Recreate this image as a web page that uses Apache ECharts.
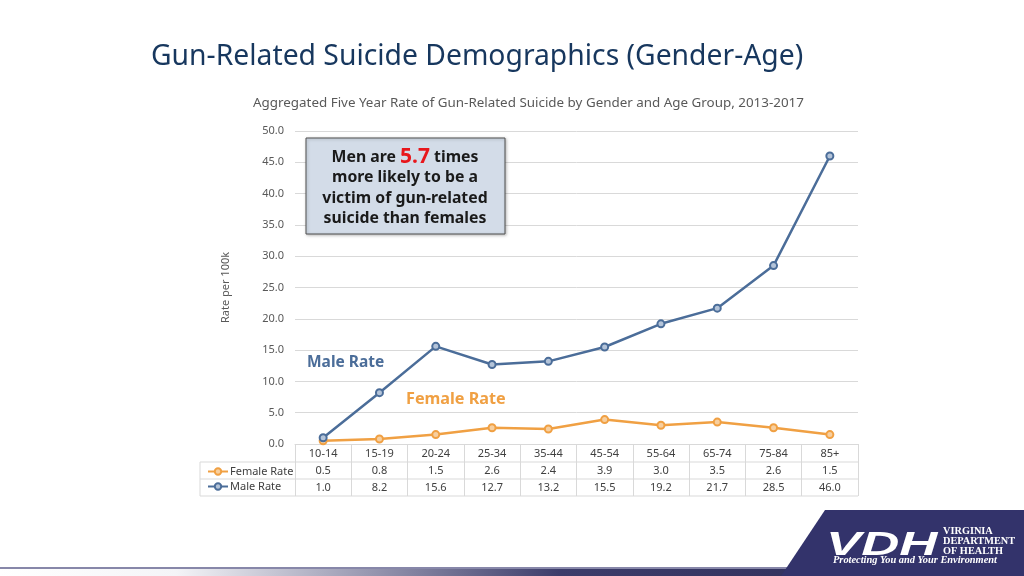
<!DOCTYPE html>
<html>
<head>
<meta charset="utf-8">
<script src="https://cdn.jsdelivr.net/npm/echarts@6/dist/echarts.min.js"></script>
<style>
  html, body { margin: 0; padding: 0; background: #fff; }
  #main { width: 1024px; height: 576px; }
</style>
</head>
<body>
<div id="main"></div>
<script>
// age groups and rates per 100k (2013-2017)
var ageGroups = ['10-14', '15-19', '20-24', '25-34', '35-44', '45-54', '55-64', '65-74', '75-84', '85+'];
var femaleRate = [0.5, 0.8, 1.5, 2.6, 2.4, 3.9, 3.0, 3.5, 2.6, 1.5];
var maleRate = [1.0, 8.2, 15.6, 12.7, 13.2, 15.5, 19.2, 21.7, 28.5, 46.0];

var blue = '#4b6d99';
var orange = '#f0a043';
var gridLine = '#d9d9d9';
var font = 'Noto Sans';

var fmt = function (v) { return v.toFixed(1); };

var myChart = echarts.init(document.getElementById('main'));

var option = {
  backgroundColor: '#ffffff',
  textStyle: { fontFamily: font },
  title: [
    {
      text: 'Gun-Related Suicide Demographics (Gender-Age)',
      left: 146, top: 38,
      textStyle: { fontSize: 28.3, fontWeight: 'normal', color: '#17375e', fontFamily: font }
    },
    {
      text: 'Aggregated Five Year Rate of Gun-Related Suicide by Gender and Age Group, 2013-2017',
      left: 248, top: 92,
      textStyle: { fontSize: 13.4, fontWeight: 'normal', color: '#595959', fontFamily: font }
    }
  ],
  legend: {
    data: ['Female Rate', 'Male Rate'],
    orient: 'vertical',
    left: 202, top: 461,
    itemWidth: 20, itemHeight: 8, itemGap: 4,
    textStyle: { fontSize: 11, color: '#404040', padding: [0, 0, 0, -3] }
  },
  grid: { left: 295, right: 166, top: 131, bottom: 132 },
  xAxis: [
    {
      type: 'category',
      data: ageGroups,
      boundaryGap: true,
      axisLine: { lineStyle: { color: gridLine } },
      axisTick: { show: true, length: 52, lineStyle: { color: gridLine } },
      axisLabel: { interval: 0, margin: 4, fontSize: 11, color: '#404040' }
    },
    {
      type: 'category',
      data: femaleRate.map(fmt),
      position: 'bottom',
      axisLine: { show: false }, axisTick: { show: false },
      axisLabel: { interval: 0, margin: 21, fontSize: 11, color: '#404040' }
    },
    {
      type: 'category',
      data: maleRate.map(fmt),
      position: 'bottom',
      axisLine: { show: false }, axisTick: { show: false },
      axisLabel: { interval: 0, margin: 38, fontSize: 11, color: '#404040' }
    }
  ],
  yAxis: {
    type: 'value',
    min: 0, max: 50, interval: 5,
    name: 'Rate per 100k',
    nameLocation: 'middle',
    nameRotate: 90,
    nameGap: 64,
    nameTextStyle: { fontSize: 11, color: '#595959' },
    axisLine: { show: false },
    axisTick: { show: false },
    axisLabel: { margin: 11, fontSize: 11, color: '#595959', formatter: function (v) { return v.toFixed(1); } },
    splitLine: { lineStyle: { color: gridLine } }
  },
  series: [
    {
      name: 'Female Rate',
      type: 'line',
      data: femaleRate,
      symbol: 'circle', symbolSize: 7,
      lineStyle: { color: orange, width: 2.5 },
      itemStyle: { color: '#f7cf9f', borderColor: orange, borderWidth: 2 },
      z: 3
    },
    {
      name: 'Male Rate',
      type: 'line',
      data: maleRate,
      symbol: 'circle', symbolSize: 7,
      lineStyle: { color: blue, width: 2.5 },
      itemStyle: { color: '#b4c4d9', borderColor: blue, borderWidth: 2 },
      z: 4
    }
  ],
  graphic: [
    // table borders
    { type: 'line', shape: { x1: 200, y1: 462, x2: 858, y2: 462 }, style: { stroke: gridLine, lineWidth: 1 } },
    { type: 'line', shape: { x1: 200, y1: 479, x2: 858, y2: 479 }, style: { stroke: gridLine, lineWidth: 1 } },
    { type: 'line', shape: { x1: 200, y1: 496, x2: 858, y2: 496 }, style: { stroke: gridLine, lineWidth: 1 } },
    { type: 'line', shape: { x1: 200, y1: 462, x2: 200, y2: 496 }, style: { stroke: gridLine, lineWidth: 1 } },
    // annotation box
    {
      type: 'rect', z: 10,
      shape: { x: 306, y: 138, width: 199, height: 96 },
      style: { fill: '#d3dce8', stroke: '#505050', lineWidth: 1, shadowBlur: 3, shadowColor: 'rgba(0,0,0,0.25)', shadowOffsetX: 1, shadowOffsetY: 1 }
    },
    {
      type: 'text', z: 11,
      x: 405, y: 188,
      style: {
        text: '{a|Men are }{r|5.7}{a| times}\n{a|more likely to be a}\n{a|victim of gun-related}\n{a|suicide than females}',
        align: 'center', verticalAlign: 'middle',
        rich: {
          a: { fontSize: 15.8, fontWeight: 'bold', fill: '#1a1a1a', lineHeight: 20.5, fontFamily: font },
          r: { fontSize: 21, fontWeight: 'bold', fill: '#e8161b', lineHeight: 20.5, fontFamily: font }
        }
      }
    },
    {
      type: 'text', z: 11, x: 307, y: 363,
      style: { text: 'Male Rate', fontSize: 15.5, fontWeight: 'bold', fill: blue, verticalAlign: 'middle', fontFamily: font }
    },
    {
      type: 'text', z: 11, x: 406, y: 399,
      style: { text: 'Female Rate', fontSize: 16.2, fontWeight: 'bold', fill: orange, verticalAlign: 'middle', fontFamily: font }
    },
    // footer strip
    {
      type: 'rect', shape: { x: 0, y: 569, width: 800, height: 7 },
      style: {
        fill: new echarts.graphic.LinearGradient(0, 0, 1, 0, [
          { offset: 0, color: '#ffffff' },
          { offset: 0.22, color: '#f4f4f7' },
          { offset: 0.7, color: '#3c3c6a' },
          { offset: 1, color: '#33335f' }
        ])
      }
    },
    { type: 'line', shape: { x1: 0, y1: 568, x2: 790, y2: 568 }, style: { stroke: '#5f5f8c', lineWidth: 1.5 } },
    // VDH logo
    {
      type: 'polygon',
      shape: { points: [[825, 510], [1024, 510], [1024, 576], [781, 576]] },
      style: { fill: '#33336b' }
    },
    {
      type: 'text', x: 826, y: 546, scaleX: 1.6,
      style: { text: 'VDH', fontSize: 33, fontWeight: 'bold', fontStyle: 'italic', fill: '#ffffff', verticalAlign: 'middle', fontFamily: 'Liberation Sans' }
    },
    {
      type: 'text', x: 943, y: 526,
      style: { text: 'VIRGINIA\nDEPARTMENT\nOF HEALTH', fontSize: 10.3, fontWeight: 'bold', lineHeight: 10, fill: '#ffffff', fontFamily: 'Liberation Serif' }
    },
    {
      type: 'text', x: 833, y: 560,
      style: { text: 'Protecting You and Your Environment', fontSize: 10.4, fontWeight: 'bold', fontStyle: 'italic', fill: '#ffffff', verticalAlign: 'middle', fontFamily: 'Liberation Serif' }
    }
  ]
};

myChart.setOption(option);
</script>
</body>
</html>
